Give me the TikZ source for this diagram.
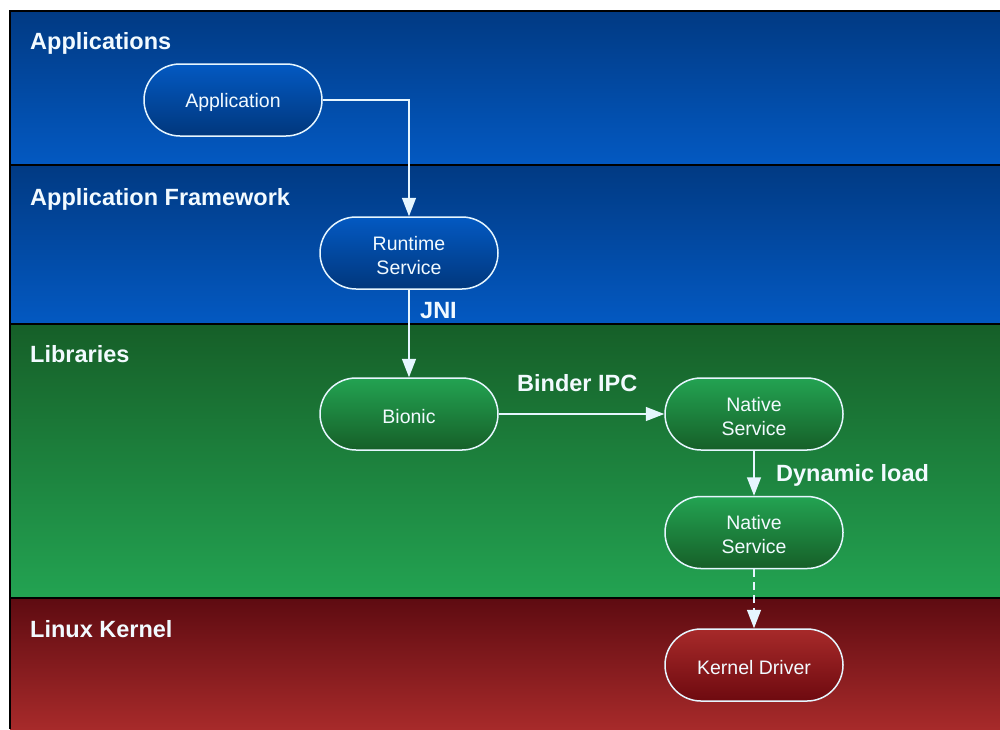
\documentclass[tikz,border=0pt]{standalone}
\usepackage{fontspec}
\setmainfont{Liberation Sans}
\usetikzlibrary{arrows.meta}

% layer colours (band: dark top -> bright bottom)
\definecolor{bluedark}{HTML}{013A83}
\definecolor{bluelight}{HTML}{0359C2}
\definecolor{greendark}{HTML}{165F28}
\definecolor{greenlight}{HTML}{23A352}
\definecolor{reddark}{HTML}{5E0B11}
\definecolor{redlight}{HTML}{A72A2A}
\definecolor{ink}{HTML}{F2FAFF}
\definecolor{wire}{HTML}{E6F6FF}

% set a line of pill text slightly lower while keeping its box size
\newcommand\pillline[1]{\raisebox{-2.5pt}[\height][\depth]{#1}}

\tikzset{
  band/.style={draw=none},
  sep/.style={draw=black, line width=2pt},
  pill/.style={rectangle, rounded corners=36pt, minimum width=178pt,
    minimum height=72pt, draw=wire, line width=1.5pt, text=ink,
    align=center, font=\fontsize{19.5}{24}\selectfont, inner sep=0pt},
  bluepill/.style={pill, top color=bluelight, bottom color=bluedark!95!black},
  greenpill/.style={pill, top color=greenlight, bottom color=greendark},
  redpill/.style={pill, top color=redlight, bottom color=reddark!90!red},
  layertitle/.style={anchor=base west, inner sep=0pt, text=ink,
    font=\fontsize{23.5}{28}\selectfont\bfseries},
  edgelabel/.style={anchor=base west, inner sep=0pt, text=ink,
    font=\fontsize{23.5}{28}\selectfont\bfseries},
  conn/.style={draw=wire, line width=1.5pt,
    -{Triangle[length=18.5pt,width=14pt,fill=wire]}},
}

\begin{document}
\begin{tikzpicture}[x=1pt,y=-1pt]
\useasboundingbox (0,0) rectangle (1000,729);
\fill[white] (0,0) rectangle (1000,729);

% layer bands
\path[band, top color=bluedark, bottom color=bluelight] (10,11) rectangle (1000,165);
\path[band, top color=bluedark, bottom color=bluelight] (10,165) rectangle (1000,324);
\path[band, top color=greendark, bottom color=greenlight] (10,324) rectangle (1000,598);
\path[band, top color=reddark, bottom color=redlight] (10,598) rectangle (1000,729);

% frame and separators
\draw[black, line width=1.2pt] (10,11) -- (1000,11);
\draw[sep] (10,165) -- (1000,165);
\draw[sep] (10,324) -- (1000,324);
\draw[sep] (10,598) -- (1000,598);
\draw[black, line width=2pt] (10,10.4) -- (10,729);

% layer titles
\node[layertitle] (tApps) at (30,49) {Applications};
\node[layertitle] (tFw) at (30,205.5) {Application Framework};
\node[layertitle] (tLibs) at (30,362.5) {Libraries};
\node[layertitle] (tKernel) at (30,637) {Linux Kernel};

% components
\node[bluepill] (application) at (233,100) {\pillline{Application}};
\node[bluepill] (runtime) at (409,253) {\pillline{Runtime}\\\pillline{Service}};
\node[greenpill] (bionic) at (409,414) {\pillline{Bionic}};
\node[greenpill] (native1) at (754,414) {\pillline{Native}\\\pillline{Service}};
\node[greenpill] (native2) at (754,532.5) {\pillline{Native}\\\pillline{Service}};
\node[redpill] (driver) at (754,665) {\pillline{Kernel Driver}};

% connectors
\draw[conn] (application.east) -| (runtime.north);
\draw[conn] (runtime.south) -- (bionic.north);
\draw[conn] (bionic.east) -- (native1.west);
\draw[conn] (native1.south) -- (native2.north);
\draw[conn, dash pattern=on 8pt off 5pt] (native2.south) -- (driver.north);

% connector labels
\node[edgelabel] (lJNI) at (420,318.5) {JNI};
\node[edgelabel] (lBinder) at (517,391.5) {Binder IPC};
\node[edgelabel] (lDyn) at (776,481) {Dynamic load};
\end{tikzpicture}
\end{document}
